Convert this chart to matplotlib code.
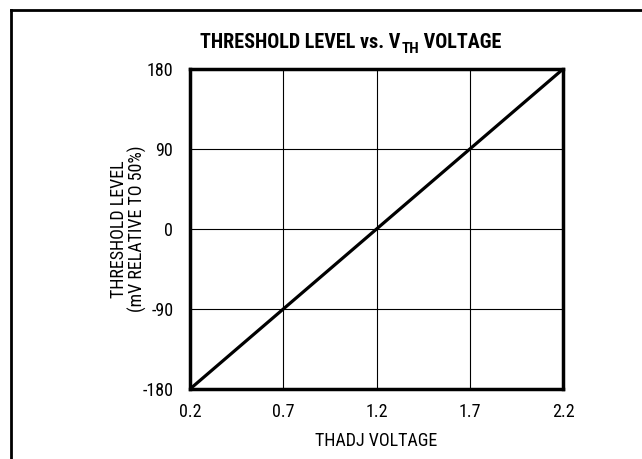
import matplotlib
matplotlib.use("Agg")
import matplotlib.pyplot as plt
from matplotlib.lines import Line2D
from matplotlib import font_manager

# Data
thadj_v = [0.2, 2.2]
threshold_mv = [-180, 180]
x_ticks = [0.2, 0.7, 1.2, 1.7, 2.2]
y_ticks = [-180, -90, 0, 90, 180]

# pick a narrow font if one is there
names = {f.name for f in font_manager.fontManager.ttflist}
font = 'Liberation Sans'
for cand in ['Roboto Condensed', 'Liberation Sans Narrow', 'Open Sans Condensed']:
    if cand in names:
        font = cand
        break
plt.rcParams['font.family'] = [font, 'DejaVu Sans']

fig = plt.figure(figsize=(6.42, 4.59), dpi=100)
ax = fig.add_axes([0.296, 0.1525, 0.581, 0.697])

ax.plot(thadj_v, threshold_mv, color='black', lw=2.3, solid_capstyle='butt')
ax.set_xlim(0.2, 2.2)
ax.set_ylim(-180, 180)
ax.set_xticks(x_ticks)
ax.set_yticks(y_ticks)
ax.set_xticklabels([f"{v:.1f}" for v in x_ticks])
ax.set_yticklabels([str(v) for v in y_ticks])
ax.tick_params(length=0, labelsize=13)
ax.tick_params(axis='x', pad=10)
ax.tick_params(axis='y', pad=12)
ax.grid(True, color='black', lw=0.8)
for s in ax.spines.values():
    s.set_linewidth(2.5)

ax.set_xlabel("THADJ VOLTAGE", fontsize=13)
ax.xaxis.set_label_coords(0.5, -0.135)
ax.set_ylabel("THRESHOLD LEVEL\n(mV RELATIVE TO 50%)", fontsize=13,
              linespacing=1.0)
ax.yaxis.set_label_coords(-0.115, 0.5)

# title with subscript
t1 = fig.text(0.312, 0.8954, "THRESHOLD LEVEL vs. V", fontsize=14.5,
              fontweight='bold', ha='left', va='baseline')
t2 = ax.annotate("TH", xy=(1, 0), xycoords=t1, xytext=(0.5, -3),
                 textcoords='offset points', fontsize=11, fontweight='bold',
                 ha='left', va='bottom')
ax.annotate(" VOLTAGE", xy=(1, 0), xycoords=t2, xytext=(0, 3),
            textcoords='offset points', fontsize=14.5, fontweight='bold',
            ha='left', va='bottom')

# outer frame (left and top only)
fig.add_artist(Line2D([11 / 642, 11 / 642], [0, 1 - 10 / 459], color='black', lw=2))
fig.add_artist(Line2D([11 / 642, 1], [1 - 10 / 459, 1 - 10 / 459], color='black', lw=2))

fig.savefig("out.png", dpi=100)
